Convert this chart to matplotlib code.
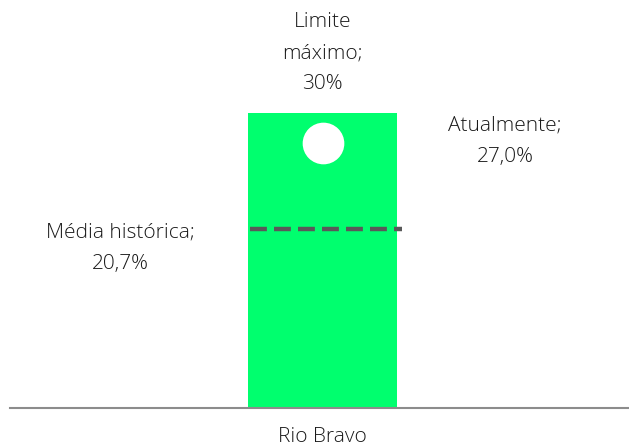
import numpy as np
import matplotlib
matplotlib.use("Agg")
import matplotlib.pyplot as plt

# data
categorias = ["Rio Bravo"]
limite_maximo = [30.0]
atualmente = [27.0]
media_historica = [20.7]
media_linha = [18.2]   # position of the dashed line as drawn in the picture

verde = "#00FF6E"
cinza_linha = "#595959"
cor_texto = "#1A1A1A"

plt.rcParams['font.family'] = ['Open Sans', 'DejaVu Sans']

fig = plt.figure(figsize=(6.29, 4.48), dpi=100)
ax = fig.add_axes([10 / 629, 40 / 448, 619 / 629, 408 / 448])

x = np.arange(len(categorias))
largura = 0.5
ax.bar(x, limite_maximo, width=largura, color=verde, zorder=1)
ax.plot(x, atualmente, marker='o', markersize=30, color='white',
        markeredgewidth=0, linestyle='none', zorder=3)
for xi, m in zip(x, media_linha):
    ax.plot([xi - largura / 2 + 0.007, xi + largura / 2 + 0.017], [m, m],
            color=cinza_linha, linewidth=3.2, linestyle=(0, (3.8, 1.6)),
            solid_capstyle='butt', zorder=2)

fonte = dict(fontsize=15, color=cor_texto, fontweight='light',
             ha='center', va='center', linespacing=1.76)
ax.text(x[0], 36.1, "Limite\nmáximo;\n%d%%" % limite_maximo[0], **fonte)
ax.text(x[0] + 0.612, atualmente[0] + 0.1,
        "Atualmente;\n%s%%" % ("%.1f" % atualmente[0]).replace('.', ','), **fonte)
ax.text(x[0] - 0.68, 16.2,
        "Média histórica;\n%s%%" % ("%.1f" % media_historica[0]).replace('.', ','),
        **fonte)

ax.set_xlim(-1.049, 1.028)
ax.set_ylim(0, 41.5)
ax.set_xticks(x)
ax.set_xticklabels(categorias, fontsize=15, color=cor_texto, fontweight='light')
ax.tick_params(axis='x', length=0, pad=14)
ax.set_yticks([])
for lado in ['left', 'right', 'top']:
    ax.spines[lado].set_visible(False)
ax.spines['bottom'].set_color('#8C8C8C')
ax.spines['bottom'].set_linewidth(1.5)
ax.patch.set_visible(False)

fig.savefig("out.png", dpi=100)
